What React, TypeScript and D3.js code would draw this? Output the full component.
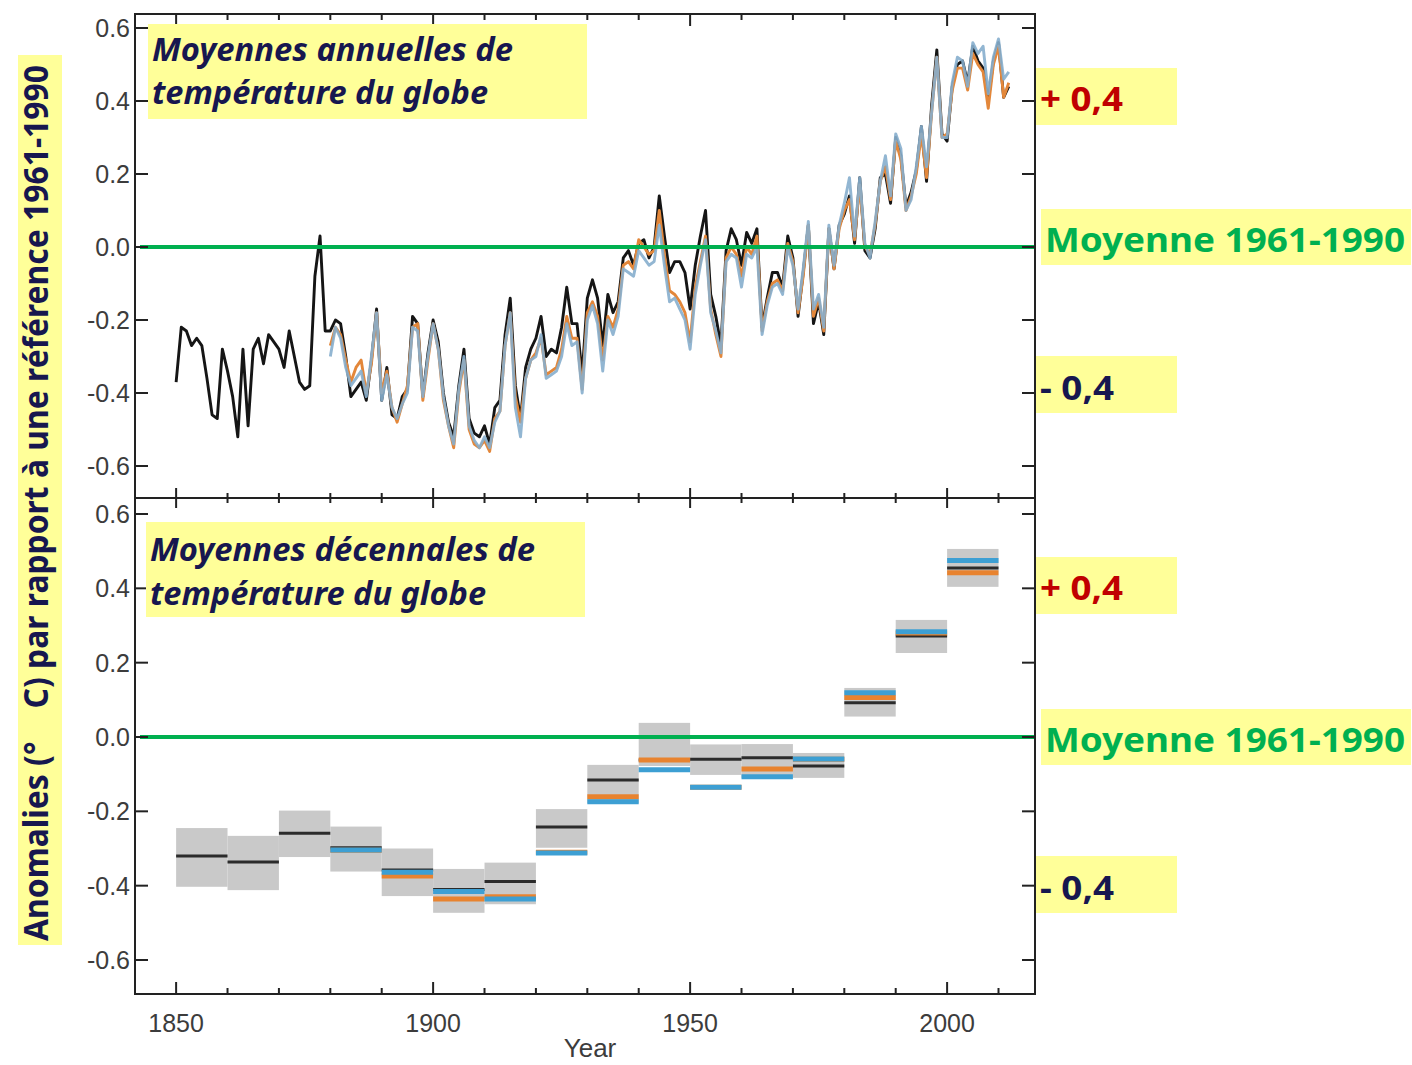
import { useEffect, useRef } from 'react';
import * as d3 from 'd3';

// Moyennes annuelles (écart à 1961-1990, °C)
const HADCRUT_START = 1850;
const hadcrut = [
  -0.37, -0.22, -0.23, -0.27, -0.25, -0.27, -0.36, -0.46, -0.47, -0.28,
  -0.34, -0.41, -0.52, -0.28, -0.49, -0.28, -0.25, -0.32, -0.24, -0.26,
  -0.28, -0.33, -0.23, -0.30, -0.37, -0.39, -0.38, -0.08, 0.03, -0.23,
  -0.23, -0.20, -0.21, -0.30, -0.41, -0.39, -0.37, -0.42, -0.31, -0.17,
  -0.42, -0.33, -0.46, -0.47, -0.41, -0.39, -0.19, -0.21, -0.41, -0.29,
  -0.20, -0.26, -0.40, -0.48, -0.52, -0.38, -0.28, -0.47, -0.51, -0.52,
  -0.49, -0.54, -0.44, -0.42, -0.24, -0.14, -0.38, -0.47, -0.33, -0.28,
  -0.25, -0.19, -0.30, -0.28, -0.29, -0.22, -0.11, -0.21, -0.21, -0.35,
  -0.14, -0.09, -0.14, -0.27, -0.13, -0.18, -0.15, -0.03, -0.01, -0.05,
  0.01, 0.02, -0.03, 0.00, 0.14, 0.03, -0.07, -0.04, -0.04, -0.07,
  -0.17, -0.05, 0.03, 0.10, -0.13, -0.19, -0.27, -0.01, 0.05, 0.02,
  -0.05, 0.04, 0.01, 0.05, -0.22, -0.14, -0.07, -0.07, -0.11, 0.03,
  -0.03, -0.19, -0.07, 0.06, -0.21, -0.15, -0.24, 0.05, -0.06, 0.06,
  0.09, 0.14, 0.01, 0.19, -0.01, -0.03, 0.05, 0.19, 0.20, 0.12,
  0.30, 0.25, 0.11, 0.15, 0.21, 0.33, 0.18, 0.39, 0.54, 0.31,
  0.29, 0.44, 0.50, 0.51, 0.45, 0.55, 0.51, 0.49, 0.40, 0.51,
  0.56, 0.41, 0.44,
];

const OTHER_START = 1880;
const noaa = [
  -0.27, -0.22, -0.24, -0.31, -0.37, -0.33, -0.31, -0.40, -0.32, -0.18,
  -0.40, -0.34, -0.44, -0.48, -0.43, -0.38, -0.22, -0.21, -0.42, -0.31,
  -0.21, -0.28, -0.42, -0.49, -0.55, -0.40, -0.31, -0.50, -0.54, -0.55,
  -0.53, -0.56, -0.47, -0.45, -0.27, -0.18, -0.41, -0.48, -0.36, -0.31,
  -0.29, -0.25, -0.35, -0.34, -0.33, -0.28, -0.19, -0.25, -0.25, -0.39,
  -0.18, -0.15, -0.19, -0.31, -0.19, -0.22, -0.17, -0.05, -0.04, -0.06,
  0.02, 0.00, -0.02, -0.01, 0.10, -0.02, -0.12, -0.13, -0.15, -0.18,
  -0.26, -0.11, -0.04, 0.03, -0.17, -0.24, -0.30, -0.03, 0.00, -0.02,
  -0.08, 0.00, -0.02, 0.03, -0.23, -0.15, -0.10, -0.09, -0.12, 0.01,
  -0.04, -0.18, -0.08, 0.06, -0.19, -0.14, -0.23, 0.05, -0.06, 0.05,
  0.10, 0.13, 0.02, 0.17, 0.00, -0.02, 0.06, 0.18, 0.22, 0.13,
  0.29, 0.24, 0.10, 0.14, 0.20, 0.31, 0.19, 0.37, 0.52, 0.30,
  0.31, 0.43, 0.49, 0.49, 0.43, 0.53, 0.50, 0.48, 0.38, 0.50,
  0.55, 0.41, 0.45,
];

const giss = [
  -0.30, -0.22, -0.25, -0.33, -0.38, -0.36, -0.34, -0.41, -0.30, -0.18,
  -0.42, -0.35, -0.44, -0.47, -0.43, -0.40, -0.22, -0.23, -0.41, -0.30,
  -0.21, -0.28, -0.41, -0.49, -0.54, -0.39, -0.30, -0.49, -0.53, -0.55,
  -0.52, -0.55, -0.48, -0.45, -0.27, -0.18, -0.44, -0.52, -0.36, -0.31,
  -0.30, -0.24, -0.36, -0.35, -0.34, -0.30, -0.21, -0.27, -0.26, -0.40,
  -0.20, -0.16, -0.21, -0.34, -0.20, -0.24, -0.19, -0.06, -0.07, -0.08,
  -0.01, -0.03, -0.05, -0.04, 0.06, -0.05, -0.15, -0.14, -0.17, -0.20,
  -0.28, -0.13, -0.05, 0.02, -0.18, -0.23, -0.29, -0.04, -0.02, -0.03,
  -0.11, -0.02, -0.03, 0.00, -0.24, -0.16, -0.11, -0.10, -0.13, 0.00,
  -0.05, -0.17, -0.06, 0.07, -0.17, -0.13, -0.22, 0.06, -0.05, 0.06,
  0.12, 0.19, 0.03, 0.19, 0.01, -0.03, 0.07, 0.18, 0.25, 0.14,
  0.31, 0.27, 0.10, 0.13, 0.22, 0.33, 0.22, 0.37, 0.52, 0.30,
  0.30, 0.45, 0.52, 0.51, 0.44, 0.56, 0.53, 0.55, 0.42, 0.52,
  0.57, 0.46, 0.48,
];

// Moyennes décennales
const decades = [1850, 1860, 1870, 1880, 1890, 1900, 1910, 1920, 1930, 1940, 1950, 1960, 1970, 1980, 1990, 2000];
const decBlack = [-0.32, -0.336, -0.259, -0.298, -0.358, -0.41, -0.389, -0.242, -0.116, -0.062, -0.06, -0.056, -0.078, 0.092, 0.272, 0.455];
const decLow = [-0.403, -0.412, -0.323, -0.362, -0.428, -0.473, -0.45, -0.298, -0.178, -0.078, -0.102, -0.11, -0.11, 0.055, 0.226, 0.404];
const decHigh = [-0.245, -0.266, -0.198, -0.241, -0.30, -0.355, -0.338, -0.194, -0.075, 0.038, -0.02, -0.019, -0.043, 0.132, 0.315, 0.506];
const decOrange = [null, null, null, -0.305, -0.374, -0.436, -0.43, -0.31, -0.161, -0.062, -0.135, -0.086, -0.06, 0.106, 0.28, 0.442];
const decBlue = [null, null, null, -0.304, -0.364, -0.416, -0.436, -0.312, -0.174, -0.088, -0.135, -0.107, -0.059, 0.119, 0.283, 0.475];

const yTicks = [-0.6, -0.4, -0.2, 0, 0.2, 0.4, 0.6];
const xTicks = [1850, 1860, 1870, 1880, 1890, 1900, 1910, 1920, 1930, 1940, 1950, 1960, 1970, 1980, 1990, 2000, 2010];
const xLabels = [1850, 1900, 1950, 2000];

const NAVY = '#17174f';
const YELLOW = '#ffff99';
const GREEN = '#00b050';
const RED = '#c00000';

export default function App() {
  const svgRef = useRef(null);

  useEffect(() => {
    const svg = d3.select(svgRef.current);
    svg.selectAll('*').remove();

    const left = 135, right = 1035;
    const topY = 14, midY = 498, botY = 994;

    const x = d3.scaleLinear().domain([1842, 2017.1]).range([left, right]);
    const yTop = d3.scaleLinear().domain([-0.6, 0.6]).range([466, 28]);
    const yBot = d3.scaleLinear().domain([-0.6, 0.6]).range([960, 514]);

    const toPts = (start, vals) => vals.map((v, i) => [start + i, v]);

    // --- panneau du haut : courbes annuelles
    const line = d3.line().x(d => x(d[0])).y(d => yTop(d[1]));
    const curves = [
      { data: toPts(HADCRUT_START, hadcrut), color: '#151515', op: 1 },
      { data: toPts(OTHER_START, noaa), color: '#e3873a', op: 1 },
      { data: toPts(OTHER_START, giss), color: '#86aecd', op: 0.9 },
    ];
    curves.forEach(c => {
      svg.append('path')
        .datum(c.data)
        .attr('d', line)
        .attr('fill', 'none')
        .attr('stroke', c.color)
        .attr('stroke-opacity', c.op)
        .attr('stroke-width', 2.9)
        .attr('stroke-linejoin', 'round');
    });

    // --- panneau du bas : boîtes décennales
    svg.append('g').selectAll('rect')
      .data(decades)
      .join('rect')
      .attr('x', d => x(d))
      .attr('width', d => x(d + 10) - x(d))
      .attr('y', (d, i) => yBot(decHigh[i]))
      .attr('height', (d, i) => yBot(decLow[i]) - yBot(decHigh[i]))
      .attr('fill', '#c9c9c9');

    const bars = [
      { vals: decBlack, color: '#2b2b2b', w: 3 },
      { vals: decOrange, color: '#e8832f', w: 5 },
      { vals: decBlue, color: '#3d9fd3', w: 5 },
    ];
    bars.forEach(b => {
      decades.forEach((d, i) => {
        const v = b.vals[i];
        if (v === null) return;
        svg.append('line')
          .attr('x1', x(d)).attr('x2', x(d + 10))
          .attr('y1', yBot(v)).attr('y2', yBot(v))
          .attr('stroke', b.color)
          .attr('stroke-width', b.w);
      });
    });

    // lignes de référence 0
    [yTop, yBot].forEach(y => {
      svg.append('line')
        .attr('x1', left + 5).attr('x2', right)
        .attr('y1', y(0)).attr('y2', y(0))
        .attr('stroke', GREEN)
        .attr('stroke-width', 4);
    });

    // --- cadre et graduations
    const axisColor = '#222';
    svg.append('rect')
      .attr('x', left).attr('y', topY)
      .attr('width', right - left).attr('height', botY - topY)
      .attr('fill', 'none').attr('stroke', axisColor).attr('stroke-width', 2);
    svg.append('line')
      .attr('x1', left).attr('x2', right)
      .attr('y1', midY).attr('y2', midY)
      .attr('stroke', axisColor).attr('stroke-width', 2);

    const tickFont = '"Liberation Sans", Arial, sans-serif';
    [yTop, yBot].forEach(y => {
      yTicks.forEach(t => {
        svg.append('line')
          .attr('x1', left).attr('x2', left + 13)
          .attr('y1', y(t)).attr('y2', y(t))
          .attr('stroke', axisColor).attr('stroke-width', 2);
        svg.append('line')
          .attr('x1', right - 13).attr('x2', right)
          .attr('y1', y(t)).attr('y2', y(t))
          .attr('stroke', axisColor).attr('stroke-width', 2);
        svg.append('text')
          .attr('x', left - 5)
          .attr('y', y(t))
          .attr('dy', '0.36em')
          .attr('text-anchor', 'end')
          .attr('font-family', tickFont)
          .attr('font-size', 25)
          .attr('fill', '#3c3c3c')
          .text(t.toFixed(1));
      });
    });

    xTicks.forEach(t => {
      const major = xLabels.includes(t);
      const len = major ? 12 : 6;
      const px = x(t);
      svg.append('line')
        .attr('x1', px).attr('x2', px)
        .attr('y1', topY).attr('y2', topY + len)
        .attr('stroke', axisColor).attr('stroke-width', 2);
      svg.append('line')
        .attr('x1', px).attr('x2', px)
        .attr('y1', midY - (major ? 10 : 5)).attr('y2', midY + (major ? 10 : 5))
        .attr('stroke', axisColor).attr('stroke-width', 2);
      svg.append('line')
        .attr('x1', px).attr('x2', px)
        .attr('y1', botY - len).attr('y2', botY)
        .attr('stroke', axisColor).attr('stroke-width', 2);
    });

    xLabels.forEach(t => {
      svg.append('text')
        .attr('x', x(t))
        .attr('y', 1032)
        .attr('text-anchor', 'middle')
        .attr('font-family', tickFont)
        .attr('font-size', 25)
        .attr('fill', '#3c3c3c')
        .text(t);
    });
    svg.append('text')
      .attr('x', 590)
      .attr('y', 1057)
      .attr('text-anchor', 'middle')
      .attr('font-family', tickFont)
      .attr('font-size', 26)
      .attr('fill', '#3c3c3c')
      .text('Year');

    // --- annotations sur fond jaune
    const labelFont = '"Noto Sans", "Open Sans", "Liberation Sans", sans-serif';
    const box = (bx, by, bw, bh) => svg.append('rect')
      .attr('x', bx).attr('y', by).attr('width', bw).attr('height', bh)
      .attr('fill', YELLOW);
    const label = (tx, ty, str, len, size, color, italic) => svg.append('text')
      .attr('x', tx).attr('y', ty)
      .attr('font-family', labelFont)
      .attr('font-weight', 700)
      .attr('font-style', italic ? 'italic' : 'normal')
      .attr('font-size', size)
      .attr('fill', color)
      .attr('textLength', len)
      .attr('lengthAdjust', 'spacingAndGlyphs')
      .text(str);

    box(148, 24, 439, 95);
    label(152, 61, 'Moyennes annuelles de', 361, 32, NAVY, true);
    label(152, 104, 'température du globe', 336, 32, NAVY, true);

    box(146, 522, 439, 95);
    label(150, 561, 'Moyennes décennales de', 385, 32, NAVY, true);
    label(150, 605, 'température du globe', 336, 32, NAVY, true);

    [[68, 209, 356], [557, 709, 856]].forEach(([plusY, moyY, minusY]) => {
      box(1036, plusY, 141, 57);
      label(1040, plusY + 43, '+ 0,4', 83, 34, RED, false);
      box(1041, moyY, 370, 56);
      label(1045, moyY + 43, 'Moyenne 1961-1990', 360, 34, GREEN, false);
      box(1036, minusY, 141, 57);
      label(1040, minusY + 44, '- 0,4', 74, 34, NAVY, false);
    });

    box(18, 55, 44, 890);
    svg.append('text')
      .attr('transform', 'translate(48,941) rotate(-90)')
      .attr('xml:space', 'preserve')
      .style('white-space', 'pre')
      .attr('font-family', labelFont)
      .attr('font-weight', 700)
      .attr('font-size', 34)
      .attr('fill', NAVY)
      .attr('textLength', 876)
      .attr('lengthAdjust', 'spacingAndGlyphs')
      .text('Anomalies (°    C) par rapport à une référence 1961-1990');
  }, []);

  return (
    <svg
      ref={svgRef}
      width={1412}
      height={1065}
      style={{ position: 'absolute', left: 0, top: 0, background: '#fff' }}
    />
  );
}
